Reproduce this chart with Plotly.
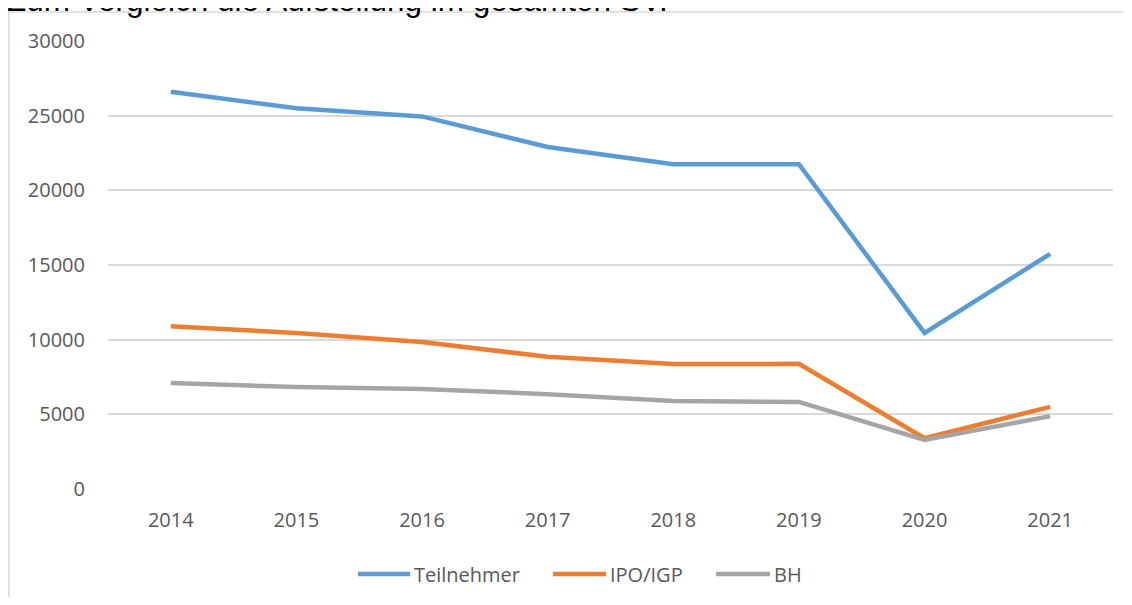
import plotly.graph_objects as go

years = ["2014", "2015", "2016", "2017", "2018", "2019", "2020", "2021"]
teilnehmer = [26600, 25500, 24950, 22900, 21750, 21750, 10450, 15750]
ipo_igp = [10900, 10450, 9850, 8850, 8370, 8380, 3400, 5500]
bh = [7100, 6830, 6700, 6350, 5900, 5830, 3280, 4880]
series_names = ["Teilnehmer", "IPO/IGP", "BH"]
colors = ["#5B9BD5", "#ED7D31", "#A5A5A5"]
y_ticks = [0, 5000, 10000, 15000, 20000, 25000, 30000]
title_text = "Zum Vergleich die Aufstellung im gesamten SV."

# page body has an 8px margin; work in viewport pixels and convert
OFF = 8
W, H = 1132 - 2 * OFF, 605 - 2 * OFF
PL, PR, PT, PB = 108, 1113, 41, 489  # plot area in viewport pixels
L, T = PL - OFF, PT - OFF
R, B = W - (PR - OFF), H - (PB - OFF)
pw, ph = W - L - R, H - T - B

def px_x(x):
    return (x - OFF - L) / pw

def px_y(y):
    return 1 - (y - OFF - T) / ph

fig = go.Figure()
for name, vals, c in zip(series_names, [teilnehmer, ipo_igp, bh], colors):
    fig.add_trace(go.Scatter(
        x=years, y=vals, name=name, mode="lines",
        line=dict(color=c, width=4.5, shape="linear"),
        showlegend=False,
    ))

font_family = "Open Sans, Liberation Sans, sans-serif"
label_color = "#595959"

shapes = []
annotations = []

# frame
shapes.append(dict(type="rect", xref="paper", yref="paper",
                   x0=px_x(8.8), x1=px_x(1160), y0=px_y(640), y1=px_y(12),
                   line=dict(color="#d9d9d9", width=1.5), layer="below"))

# custom legend
legend_items = [(358, 410, 412), (553, 606, 608), (716, 770, 772)]
for (x0, x1, xt), name, c in zip(legend_items, series_names, colors):
    shapes.append(dict(type="line", xref="paper", yref="paper",
                       x0=px_x(x0), x1=px_x(x1), y0=px_y(574), y1=px_y(574),
                       line=dict(color=c, width=4.5)))
    annotations.append(dict(xref="paper", yref="paper", x=px_x(xt), y=px_y(574),
                            xanchor="left", yanchor="middle", showarrow=False,
                            text=name, font=dict(family=font_family, size=20, color=label_color)))

annotations.append(dict(xref="paper", yref="paper", x=px_x(5), y=px_y(20),
                        xanchor="left", yanchor="bottom", showarrow=False,
                        text=title_text,
                        font=dict(family="Liberation Sans, Arial, sans-serif", size=31.5, color="#000000")))

fig.update_layout(
    width=W, height=H,
    margin=dict(l=L, r=R, t=T, b=B, autoexpand=False),
    paper_bgcolor="white", plot_bgcolor="white",
    shapes=shapes, annotations=annotations,
    xaxis=dict(type="category", range=[-0.5, 7.5], showgrid=False,
               showline=False, zeroline=False, ticks="",
               tickfont=dict(family=font_family, size=20, color=label_color),
               ticklabelstandoff=17),
    yaxis=dict(range=[0, 30000], tickvals=y_ticks, ticktext=[str(v) for v in y_ticks],
               showgrid=True, gridcolor="#d9d9d9", gridwidth=1.5,
               zeroline=False, showline=False, ticks="",
               tickfont=dict(family=font_family, size=20, color=label_color),
               ticklabelstandoff=22),
    showlegend=False,
)

fig.write_html("out.html")
